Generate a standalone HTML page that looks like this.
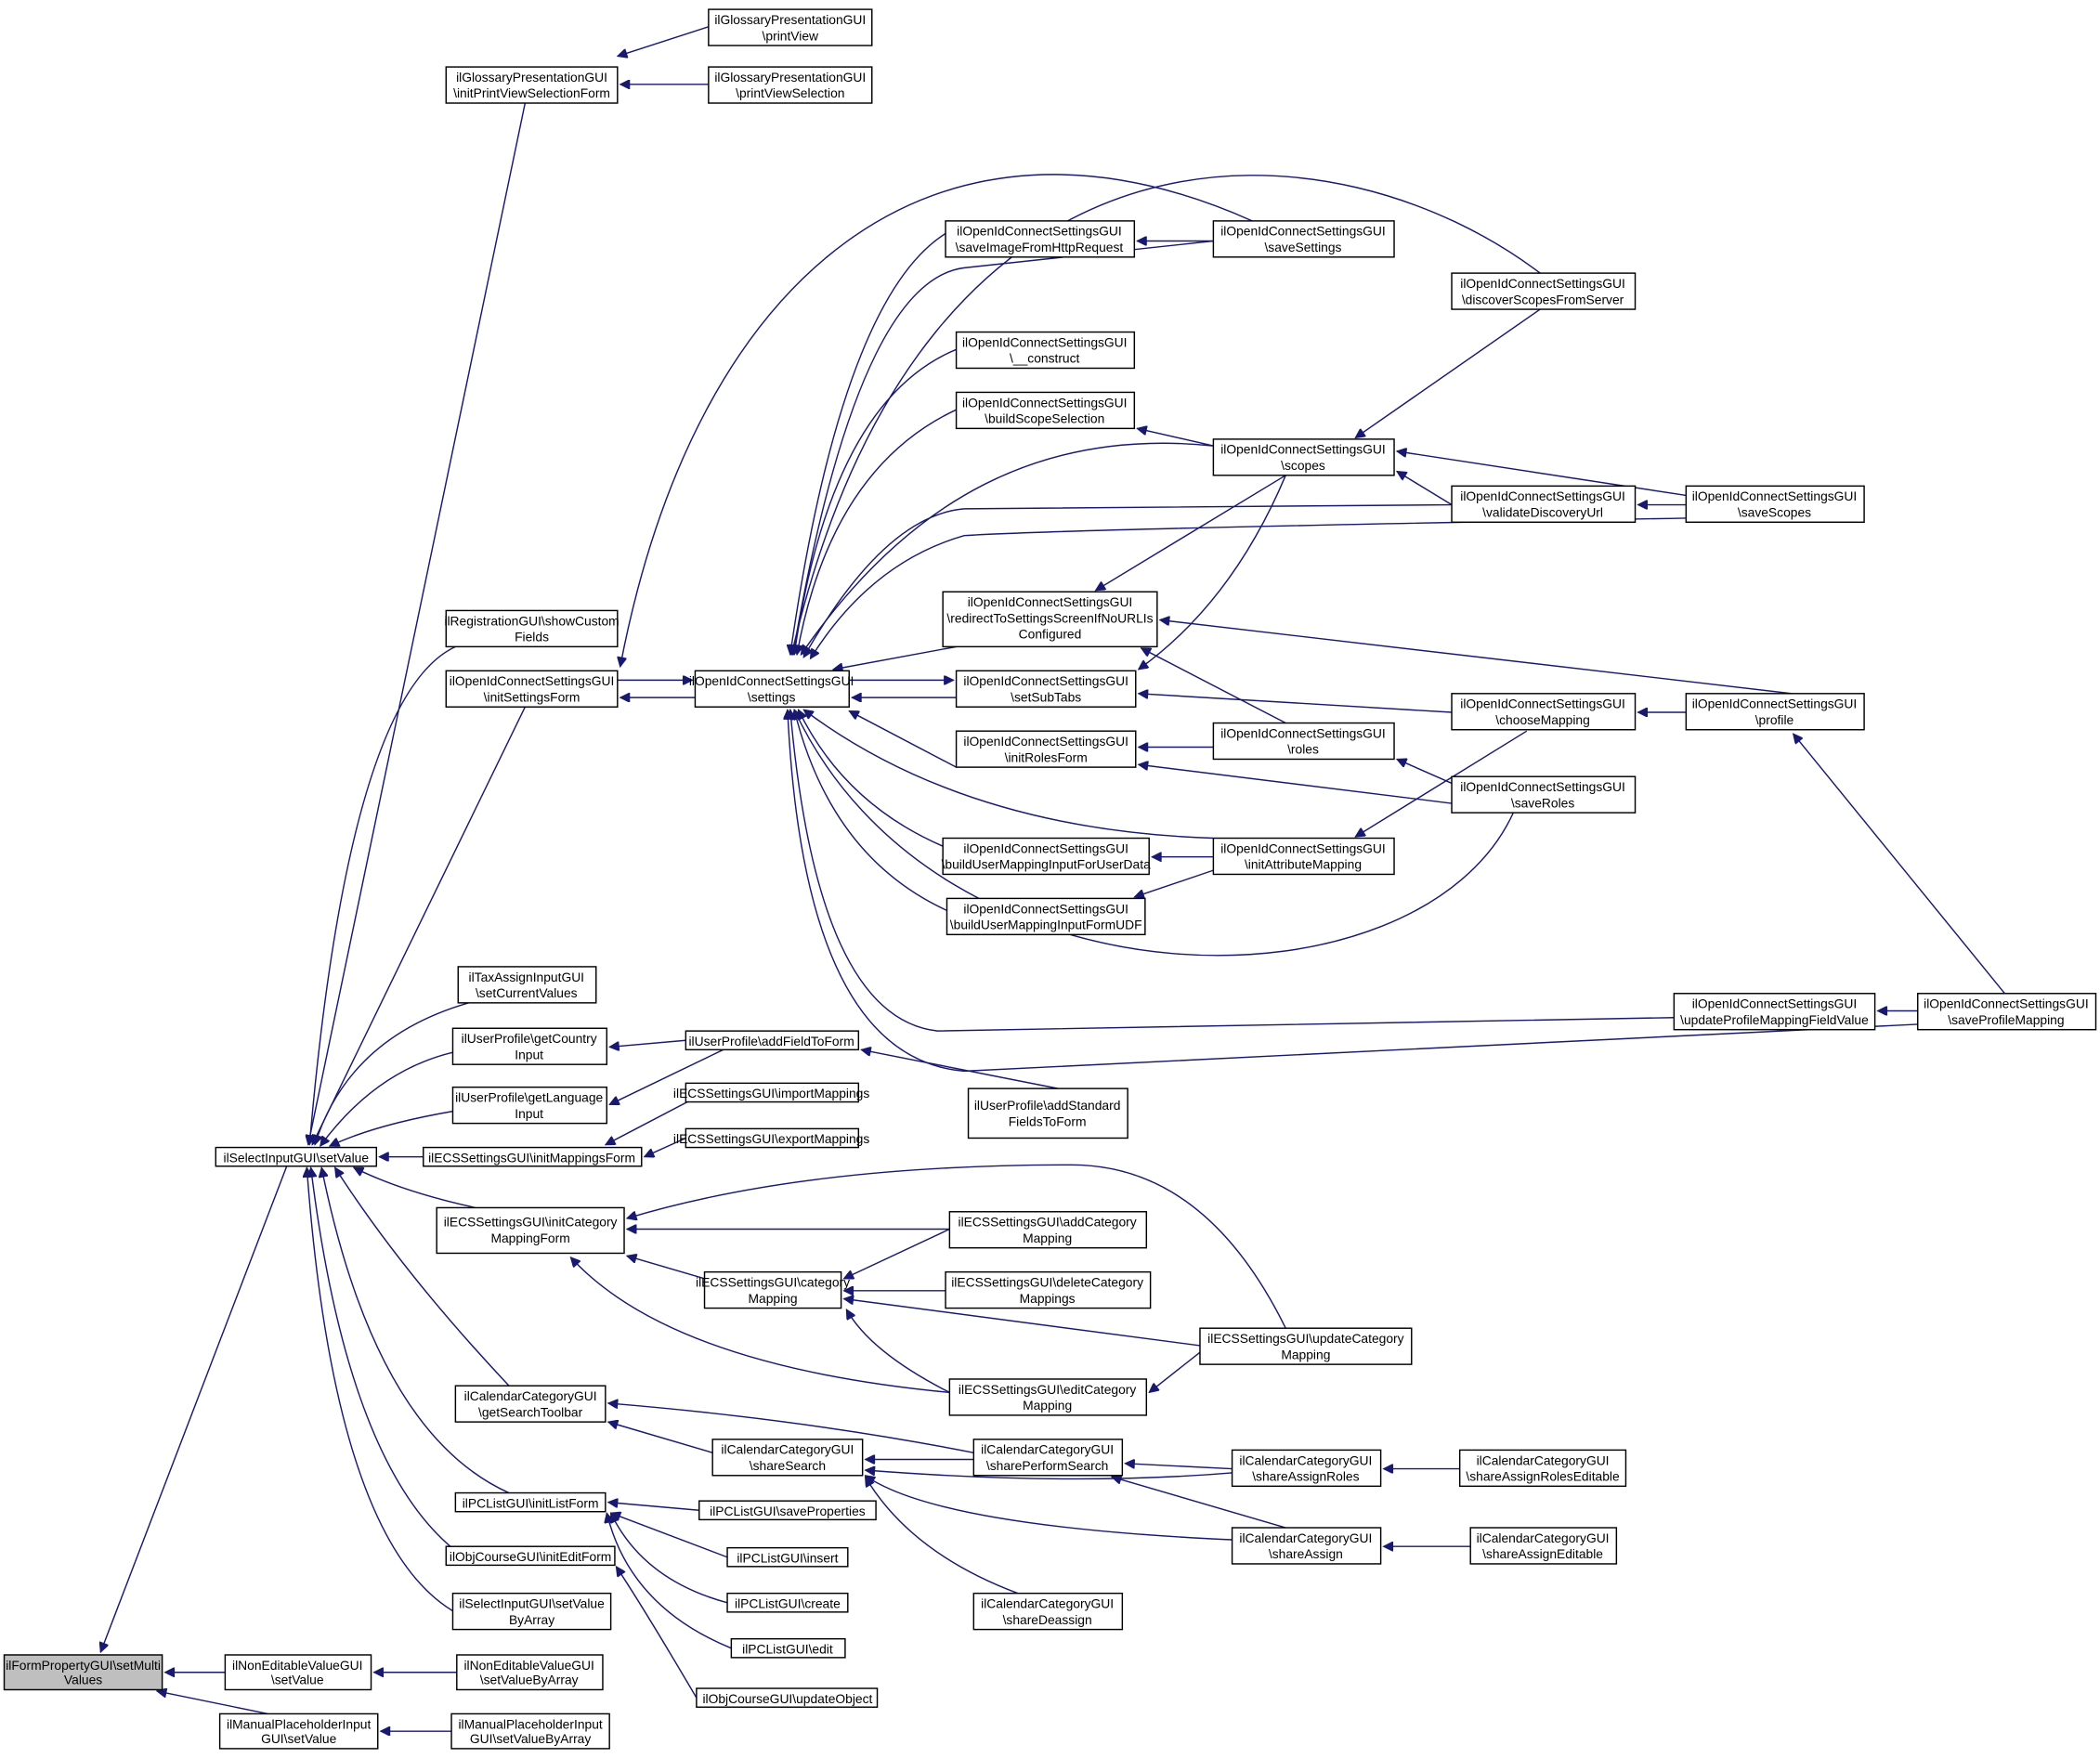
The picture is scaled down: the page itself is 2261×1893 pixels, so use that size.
<!DOCTYPE html>
<html><head><meta charset="utf-8"><style>
html,body{margin:0;padding:0;background:#fff;}
svg{display:block}
text{font-family:"Liberation Sans",sans-serif;font-size:9.6px;fill:#000;text-anchor:middle}
rect{fill:#fff;stroke:#000;stroke-width:1}
path{fill:none;stroke:#191970;stroke-width:1;marker-end:url(#a)}
</style></head><body>
<svg width="2261" height="1893" viewBox="0 0 1568 1313" xmlns="http://www.w3.org/2000/svg">
<defs><marker id="a" viewBox="0 0 10 10" refX="10" refY="5" markerWidth="10" markerHeight="7" markerUnits="userSpaceOnUse" orient="auto"><polygon points="0,0 10,5 0,10" fill="#191970" stroke="#191970"/></marker></defs>
<g>
<path d="M168,1249 L123,1249"/>
<path d="M200,1280 L117,1263"/>
<path d="M341,1249 L279,1249"/>
<path d="M337,1293 L284,1293"/>
<path d="M214,871 L75,1234"/>
<path d="M392,77 L230,855"/>
<path d="M340,483 Q260,520 231,855"/>
<path d="M392,528 L233,855"/>
<path d="M350,749 Q260,775 235,855"/>
<path d="M338,786 Q280,800 239,856"/>
<path d="M338,830 Q280,840 246,856"/>
<path d="M316,864 L283,864"/>
<path d="M355,902 Q300,890 264,872"/>
<path d="M380,1035 Q300,950 250,872"/>
<path d="M380,1115 Q280,1070 240,872"/>
<path d="M345,1162 Q260,1100 232,872"/>
<path d="M345,1207 Q250,1160 229,872"/>
<path d="M529,20 L461,42"/>
<path d="M529,63 L463,63"/>
<path d="M519,521 L463,521"/>
<path d="M461,508 L517,508"/>
<path d="M935,165 C700,60 520,200 463,498"/>
<path d="M1150,204 C1000,90 690,60 591,489"/>
<path d="M906,180 L720,200 Q640,210 592,489"/>
<path d="M714,170 Q630,210 590,489"/>
<path d="M906,180 L849,180"/>
<path d="M714,261 Q620,300 593,489"/>
<path d="M714,306 Q620,350 595,489"/>
<path d="M714,483 L622,500"/>
<path d="M634,508 L712,508"/>
<path d="M714,521 L636,521"/>
<path d="M714,573 L634,531"/>
<path d="M704,632 Q630,600 596,530"/>
<path d="M707,680 Q620,640 593,530"/>
<path d="M906,333 C780,320 680,370 598,489"/>
<path d="M1084,377 L720,380 Q660,385 600,491"/>
<path d="M1259,387 Q800,395 720,400 Q650,420 605,492"/>
<path d="M1130,607 C1060,760 700,760 593,530"/>
<path d="M906,626 Q720,620 600,530"/>
<path d="M1250,760 L700,770 Q610,760 590,530"/>
<path d="M1432,765 L720,800 Q600,790 588,530"/>
<path d="M906,333 L849,320"/>
<path d="M1150,231 L1012,327"/>
<path d="M1259,370 L1043,337"/>
<path d="M1084,377 L1043,352"/>
<path d="M1259,377 L1223,377"/>
<path d="M960,355 L818,441"/>
<path d="M960,355 Q920,450 850,500"/>
<path d="M960,540 L852,484"/>
<path d="M1338,518 L866,463"/>
<path d="M1084,532 L850,518"/>
<path d="M906,558 L850,558"/>
<path d="M1084,600 L850,571"/>
<path d="M1084,585 L1043,567"/>
<path d="M1259,532 L1223,532"/>
<path d="M1140,546 L1012,625"/>
<path d="M906,640 L860,640"/>
<path d="M906,650 L847,670"/>
<path d="M1497,742 L1339,548"/>
<path d="M1432,755 L1402,755"/>
<path d="M512,777 L455,782"/>
<path d="M540,784 L455,825"/>
<path d="M790,813 L643,784"/>
<path d="M540,809 L452,855"/>
<path d="M512,850 L481,864"/>
<path d="M709,918 L468,918"/>
<path d="M960,992 Q900,870 800,870 Q600,870 468,910"/>
<path d="M526,955 L468,938"/>
<path d="M709,1040 Q500,1020 426,939"/>
<path d="M709,918 L630,955"/>
<path d="M706,964 L630,964"/>
<path d="M896,1005 L630,970"/>
<path d="M709,1040 Q650,1010 632,978"/>
<path d="M896,1010 L858,1040"/>
<path d="M727,1085 Q600,1060 454,1048"/>
<path d="M532,1085 L454,1062"/>
<path d="M727,1090 L646,1090"/>
<path d="M920,1100 Q800,1110 646,1098"/>
<path d="M920,1150 Q700,1140 646,1102"/>
<path d="M760,1190 Q680,1160 646,1103"/>
<path d="M920,1097 L840,1093"/>
<path d="M960,1141 L830,1103"/>
<path d="M1090,1097 L1033,1097"/>
<path d="M1098,1155 L1033,1155"/>
<path d="M522,1128 L454,1122"/>
<path d="M543,1163 L456,1130"/>
<path d="M543,1197 Q480,1180 456,1130"/>
<path d="M546,1231 Q470,1200 453,1130"/>
<path d="M520,1268 Q480,1200 460,1170"/>
</g>
<g>
<rect x="3" y="1236" width="118" height="26" style="fill:#bfbfbf"/><text x="62" y="1247">ilFormPropertyGUI\setMulti</text><text x="62" y="1258">Values</text>
<rect x="168" y="1236" width="109" height="26"/><text x="222" y="1247">ilNonEditableValueGUI</text><text x="222" y="1258">\setValue</text>
<rect x="341" y="1236" width="109" height="26"/><text x="395" y="1247">ilNonEditableValueGUI</text><text x="395" y="1258">\setValueByArray</text>
<rect x="164" y="1280" width="118" height="26"/><text x="223" y="1291">ilManualPlaceholderInput</text><text x="223" y="1302">GUI\setValue</text>
<rect x="337" y="1280" width="118" height="26"/><text x="396" y="1291">ilManualPlaceholderInput</text><text x="396" y="1302">GUI\setValueByArray</text>
<rect x="161" y="857" width="120" height="14"/><text x="221" y="868">ilSelectInputGUI\setValue</text>
<rect x="333" y="50" width="128" height="27"/><text x="397" y="61">ilGlossaryPresentationGUI</text><text x="397" y="73">\initPrintViewSelectionForm</text>
<rect x="529" y="7" width="122" height="27"/><text x="590" y="18">ilGlossaryPresentationGUI</text><text x="590" y="30">\printView</text>
<rect x="529" y="50" width="122" height="27"/><text x="590" y="61">ilGlossaryPresentationGUI</text><text x="590" y="73">\printViewSelection</text>
<rect x="333" y="456" width="128" height="27"/><text x="397" y="467">ilRegistrationGUI\showCustom</text><text x="397" y="479">Fields</text>
<rect x="333" y="501" width="128" height="27"/><text x="397" y="512">ilOpenIdConnectSettingsGUI</text><text x="397" y="524">\initSettingsForm</text>
<rect x="519" y="501" width="115" height="27"/><text x="576" y="512">ilOpenIdConnectSettingsGUI</text><text x="576" y="524">\settings</text>
<rect x="342" y="722" width="103" height="27"/><text x="393" y="733">ilTaxAssignInputGUI</text><text x="393" y="745">\setCurrentValues</text>
<rect x="338" y="768" width="115" height="27"/><text x="395" y="779">ilUserProfile\getCountry</text><text x="395" y="791">Input</text>
<rect x="338" y="812" width="115" height="27"/><text x="395" y="823">ilUserProfile\getLanguage</text><text x="395" y="835">Input</text>
<rect x="316" y="857" width="163" height="14"/><text x="397" y="868">ilECSSettingsGUI\initMappingsForm</text>
<rect x="326" y="902" width="140" height="34"/><text x="396" y="916">ilECSSettingsGUI\initCategory</text><text x="396" y="928">MappingForm</text>
<rect x="340" y="1035" width="112" height="27"/><text x="396" y="1046">ilCalendarCategoryGUI</text><text x="396" y="1058">\getSearchToolbar</text>
<rect x="340" y="1115" width="112" height="14"/><text x="396" y="1126">ilPCListGUI\initListForm</text>
<rect x="333" y="1155" width="126" height="14"/><text x="396" y="1166">ilObjCourseGUI\initEditForm</text>
<rect x="338" y="1190" width="118" height="27"/><text x="397" y="1201">ilSelectInputGUI\setValue</text><text x="397" y="1213">ByArray</text>
<rect x="512" y="770" width="129" height="14"/><text x="576" y="781">ilUserProfile\addFieldToForm</text>
<rect x="512" y="809" width="129" height="14"/><text x="576" y="820">ilECSSettingsGUI\importMappings</text>
<rect x="512" y="843" width="129" height="14"/><text x="576" y="854">ilECSSettingsGUI\exportMappings</text>
<rect x="526" y="950" width="102" height="27"/><text x="577" y="961">ilECSSettingsGUI\category</text><text x="577" y="973">Mapping</text>
<rect x="532" y="1075" width="112" height="27"/><text x="588" y="1086">ilCalendarCategoryGUI</text><text x="588" y="1098">\shareSearch</text>
<rect x="522" y="1121" width="132" height="14"/><text x="588" y="1132">ilPCListGUI\saveProperties</text>
<rect x="543" y="1156" width="90" height="14"/><text x="588" y="1167">ilPCListGUI\insert</text>
<rect x="543" y="1190" width="90" height="14"/><text x="588" y="1201">ilPCListGUI\create</text>
<rect x="546" y="1224" width="85" height="14"/><text x="588" y="1235">ilPCListGUI\edit</text>
<rect x="520" y="1261" width="135" height="14"/><text x="588" y="1272">ilObjCourseGUI\updateObject</text>
<rect x="706" y="165" width="141" height="27"/><text x="776" y="176">ilOpenIdConnectSettingsGUI</text><text x="776" y="188">\saveImageFromHttpRequest</text>
<rect x="714" y="248" width="133" height="27"/><text x="780" y="259">ilOpenIdConnectSettingsGUI</text><text x="780" y="271">\__construct</text>
<rect x="714" y="293" width="133" height="27"/><text x="780" y="304">ilOpenIdConnectSettingsGUI</text><text x="780" y="316">\buildScopeSelection</text>
<rect x="704" y="442" width="160" height="41"/><text x="784" y="453">ilOpenIdConnectSettingsGUI</text><text x="784" y="465">\redirectToSettingsScreenIfNoURLIs</text><text x="784" y="477">Configured</text>
<rect x="714" y="501" width="134" height="27"/><text x="781" y="512">ilOpenIdConnectSettingsGUI</text><text x="781" y="524">\setSubTabs</text>
<rect x="714" y="546" width="134" height="27"/><text x="781" y="557">ilOpenIdConnectSettingsGUI</text><text x="781" y="569">\initRolesForm</text>
<rect x="704" y="626" width="154" height="27"/><text x="781" y="637">ilOpenIdConnectSettingsGUI</text><text x="781" y="649">\buildUserMappingInputForUserData</text>
<rect x="707" y="671" width="148" height="27"/><text x="781" y="682">ilOpenIdConnectSettingsGUI</text><text x="781" y="694">\buildUserMappingInputFormUDF</text>
<rect x="723" y="813" width="119" height="37"/><text x="782" y="829">ilUserProfile\addStandard</text><text x="782" y="841">FieldsToForm</text>
<rect x="709" y="905" width="147" height="27"/><text x="782" y="916">ilECSSettingsGUI\addCategory</text><text x="782" y="928">Mapping</text>
<rect x="706" y="950" width="153" height="27"/><text x="782" y="961">ilECSSettingsGUI\deleteCategory</text><text x="782" y="973">Mappings</text>
<rect x="709" y="1030" width="147" height="27"/><text x="782" y="1041">ilECSSettingsGUI\editCategory</text><text x="782" y="1053">Mapping</text>
<rect x="727" y="1075" width="111" height="27"/><text x="782" y="1086">ilCalendarCategoryGUI</text><text x="782" y="1098">\sharePerformSearch</text>
<rect x="727" y="1190" width="111" height="27"/><text x="782" y="1201">ilCalendarCategoryGUI</text><text x="782" y="1213">\shareDeassign</text>
<rect x="906" y="165" width="135" height="27"/><text x="973" y="176">ilOpenIdConnectSettingsGUI</text><text x="973" y="188">\saveSettings</text>
<rect x="1084" y="204" width="137" height="27"/><text x="1152" y="215">ilOpenIdConnectSettingsGUI</text><text x="1152" y="227">\discoverScopesFromServer</text>
<rect x="906" y="328" width="135" height="27"/><text x="973" y="339">ilOpenIdConnectSettingsGUI</text><text x="973" y="351">\scopes</text>
<rect x="1084" y="363" width="137" height="27"/><text x="1152" y="374">ilOpenIdConnectSettingsGUI</text><text x="1152" y="386">\validateDiscoveryUrl</text>
<rect x="1259" y="363" width="133" height="27"/><text x="1325" y="374">ilOpenIdConnectSettingsGUI</text><text x="1325" y="386">\saveScopes</text>
<rect x="1084" y="518" width="137" height="27"/><text x="1152" y="529">ilOpenIdConnectSettingsGUI</text><text x="1152" y="541">\chooseMapping</text>
<rect x="1259" y="518" width="133" height="27"/><text x="1325" y="529">ilOpenIdConnectSettingsGUI</text><text x="1325" y="541">\profile</text>
<rect x="906" y="540" width="135" height="27"/><text x="973" y="551">ilOpenIdConnectSettingsGUI</text><text x="973" y="563">\roles</text>
<rect x="1084" y="580" width="137" height="27"/><text x="1152" y="591">ilOpenIdConnectSettingsGUI</text><text x="1152" y="603">\saveRoles</text>
<rect x="906" y="626" width="135" height="27"/><text x="973" y="637">ilOpenIdConnectSettingsGUI</text><text x="973" y="649">\initAttributeMapping</text>
<rect x="1250" y="742" width="150" height="27"/><text x="1325" y="753">ilOpenIdConnectSettingsGUI</text><text x="1325" y="765">\updateProfileMappingFieldValue</text>
<rect x="1432" y="742" width="133" height="27"/><text x="1498" y="753">ilOpenIdConnectSettingsGUI</text><text x="1498" y="765">\saveProfileMapping</text>
<rect x="896" y="992" width="158" height="27"/><text x="975" y="1003">ilECSSettingsGUI\updateCategory</text><text x="975" y="1015">Mapping</text>
<rect x="920" y="1083" width="111" height="27"/><text x="975" y="1094">ilCalendarCategoryGUI</text><text x="975" y="1106">\shareAssignRoles</text>
<rect x="920" y="1141" width="111" height="27"/><text x="975" y="1152">ilCalendarCategoryGUI</text><text x="975" y="1164">\shareAssign</text>
<rect x="1090" y="1083" width="124" height="27"/><text x="1152" y="1094">ilCalendarCategoryGUI</text><text x="1152" y="1106">\shareAssignRolesEditable</text>
<rect x="1098" y="1141" width="109" height="27"/><text x="1152" y="1152">ilCalendarCategoryGUI</text><text x="1152" y="1164">\shareAssignEditable</text>
</g>
</svg>
</body></html>
